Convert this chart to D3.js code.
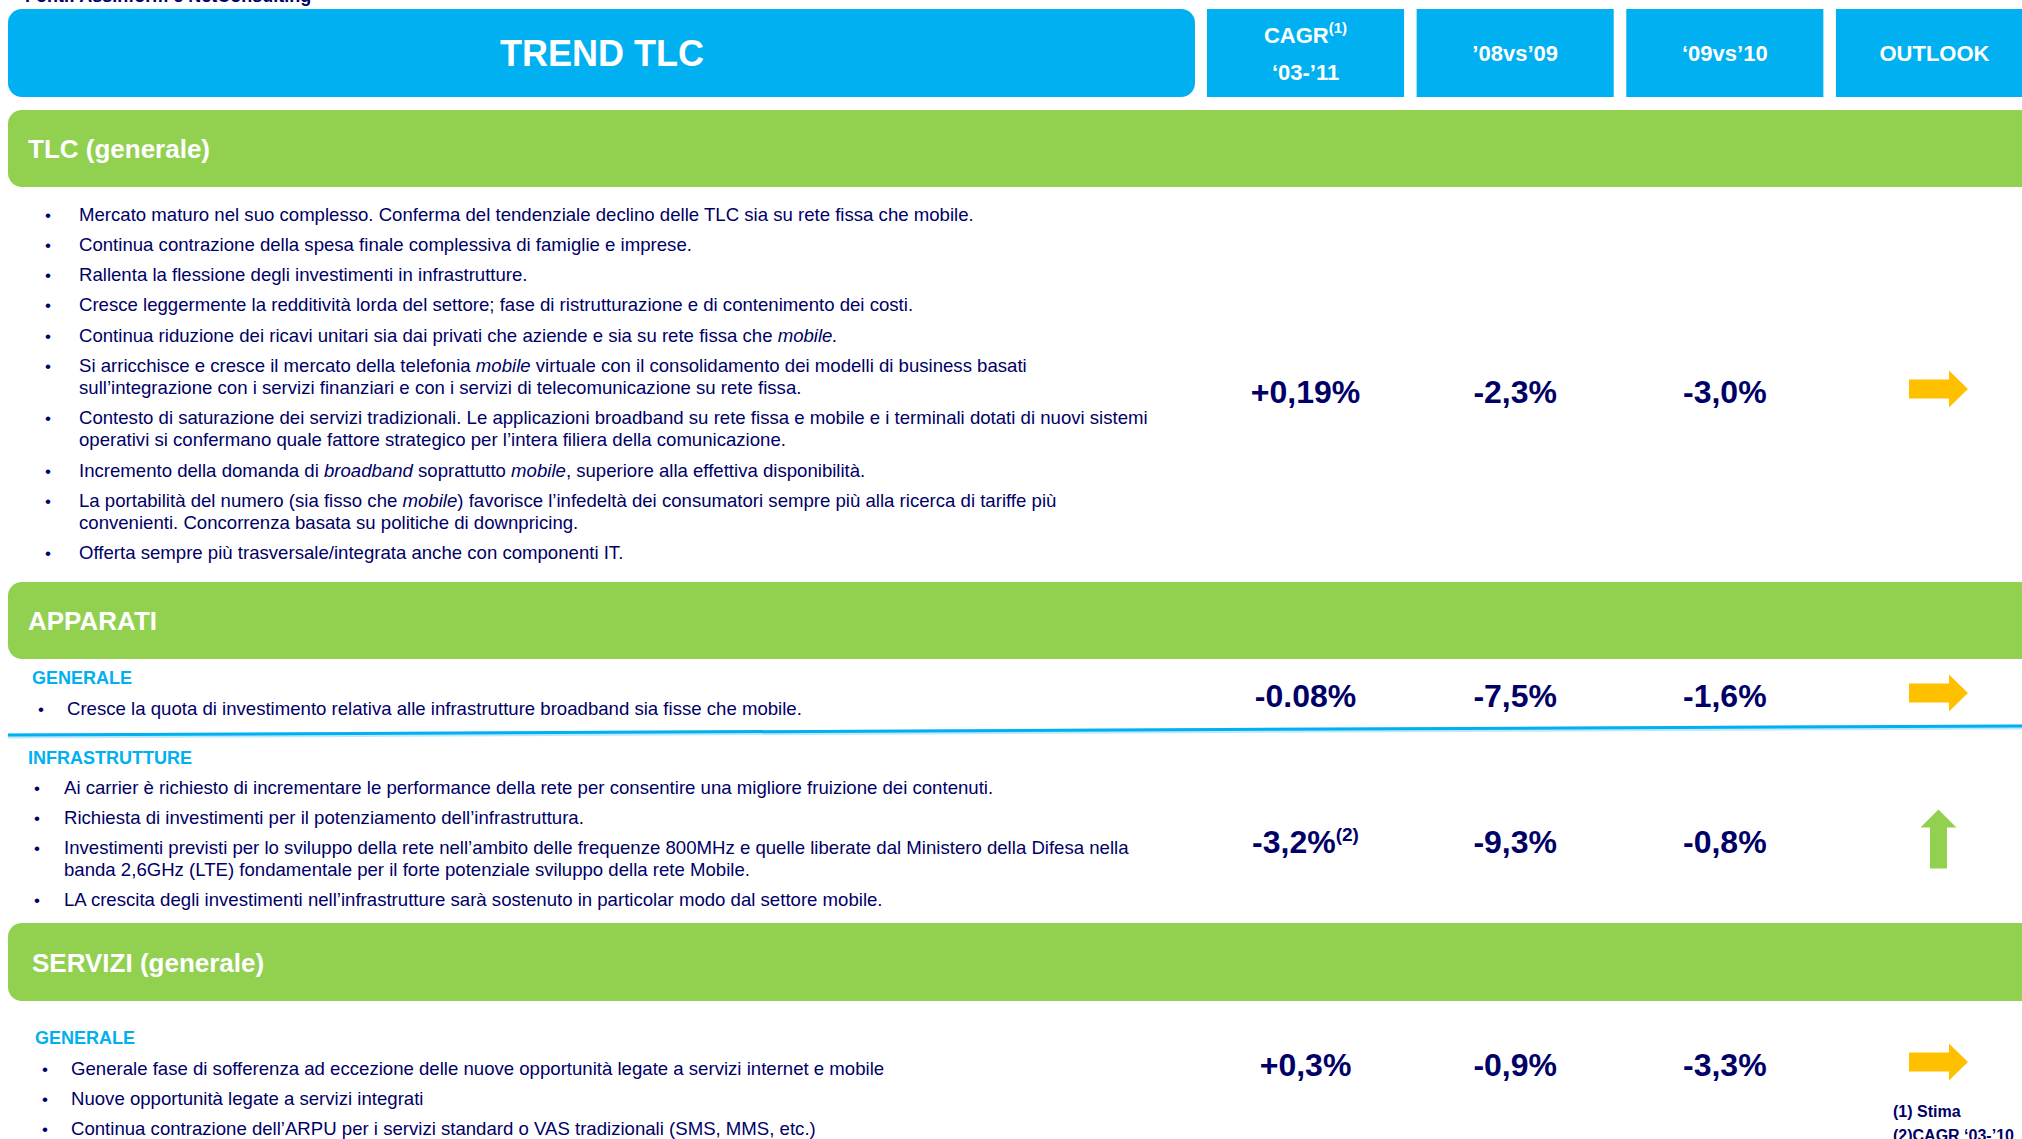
<!DOCTYPE html>
<html>
<head>
<meta charset="utf-8">
<script src="https://cdn.jsdelivr.net/npm/d3@7"></script>
<style>
    html, body { margin: 0; padding: 0; background: #fff; overflow: hidden; }
    svg { display: block; }
    text { white-space: pre; }
</style>
</head>
<body>
<svg id="base" width="2022" height="1139"></svg>
<script>
// data

const sourceNote = "Fonti: Assinform e NetConsulting";
const tableTitle = "TREND TLC";
const columns = ["CAGR", "’08vs’09", "‘09vs’10", "OUTLOOK"];
const sectionTitles = ["TLC (generale)", "APPARATI", "SERVIZI (generale)"];
const groupLabels = ["", "GENERALE", "INFRASTRUTTURE", "GENERALE"];

const cagrValues = ["+0,19%", "-0.08%", "-3,2%", "+0,3%"];
const cagrNotes = ["", "", "(2)", ""];
const values0809 = ["-2,3%", "-7,5%", "-9,3%", "-0,9%"];
const values0910 = ["-3,0%", "-1,6%", "-0,8%", "-3,3%"];
const outlookTrend = ["flat", "flat", "up", "flat"];

// *...* = corsivo
const bulletsTlc = [
    ["Mercato maturo nel suo complesso. Conferma del tendenziale declino delle TLC sia su rete fissa che mobile."],
    ["Continua contrazione della spesa finale complessiva di famiglie e imprese."],
    ["Rallenta la flessione degli investimenti in infrastrutture."],
    ["Cresce leggermente la redditività lorda del settore; fase di ristrutturazione e di contenimento dei costi."],
    ["Continua riduzione dei ricavi unitari sia dai privati che aziende e sia su rete fissa che *mobile.*"],
    ["Si arricchisce e cresce il mercato della telefonia *mobile* virtuale con il consolidamento dei modelli di business basati",
     "sull’integrazione con i servizi finanziari e con i servizi di telecomunicazione su rete fissa."],
    ["Contesto di saturazione dei servizi tradizionali. Le applicazioni broadband su rete fissa e mobile e i terminali dotati di nuovi sistemi",
     "operativi si confermano quale fattore strategico per l’intera filiera della comunicazione."],
    ["Incremento della domanda di *broadband* soprattutto *mobile*, superiore alla effettiva disponibilità."],
    ["La portabilità del numero (sia fisso che *mobile*) favorisce l’infedeltà dei consumatori sempre più alla ricerca di tariffe più",
     "convenienti. Concorrenza basata su politiche di downpricing."],
    ["Offerta sempre più trasversale/integrata anche con componenti IT."]
];
const bulletsApparati = [
    ["Cresce la quota di investimento relativa alle infrastrutture broadband sia fisse che mobile."]
];
const bulletsInfrastrutture = [
    ["Ai carrier è richiesto di incrementare le performance della rete per consentire una migliore fruizione dei contenuti."],
    ["Richiesta di investimenti per il potenziamento dell’infrastruttura."],
    ["Investimenti previsti per lo sviluppo della rete nell’ambito delle frequenze 800MHz e quelle liberate dal Ministero della Difesa nella",
     "banda 2,6GHz (LTE) fondamentale per il forte potenziale sviluppo della rete Mobile."],
    ["LA crescita degli investimenti nell’infrastrutture sarà sostenuto in particolar modo dal settore mobile."]
];
const bulletsServizi = [
    ["Generale fase di sofferenza ad eccezione delle nuove opportunità legate a servizi internet e mobile"],
    ["Nuove opportunità legate a servizi integrati"],
    ["Continua contrazione dell’ARPU per i servizi standard o VAS tradizionali (SMS, MMS, etc.)"]
];
const bulletGroups = [bulletsTlc, bulletsApparati, bulletsInfrastrutture, bulletsServizi];
const footnotes = ["(1) Stima", "(2)CAGR ‘03-’10"];

// layout

const W = 2022, H = 1139;
const blue = "#00B0F0", green = "#92D050", navy = "#000066", yellow = "#FFC000";
const font = "Arial, 'Liberation Sans', sans-serif";
const bodySize = 18.6;

const sectionBars = [[110, 187], [582, 659], [923, 1001]];
const rowLayout = [
    { labelX: 0, labelY: 0, bulletX: 45, textX: 79, startY: 214, valueY: 391 },
    { labelX: 32, labelY: 677, bulletX: 38, textX: 67, startY: 708, valueY: 695 },
    { labelX: 28, labelY: 757, bulletX: 34, textX: 64, startY: 787, valueY: 841 },
    { labelX: 35, labelY: 1037, bulletX: 42, textX: 71, startY: 1068, valueY: 1064 }
];
const lineGap = 22, paraGap = 30.3;

const x = d3.scaleBand().domain(columns).range([1207, 2033]).paddingInner(0.06);

const base = d3.select("#base").attr("font-family", font);

function richText(sel, str) {
    str.split("*").forEach((s, i) => {
        if (s.length) sel.append("tspan").attr("font-style", i % 2 ? "italic" : null).text(s);
    });
}

// nota fonte (tagliata in alto)
base.append("text").attr("x", 25).attr("y", 2)
    .attr("font-size", 18).attr("font-weight", "bold").attr("fill", navy)
    .text(sourceNote);

// intestazione
base.append("rect").attr("x", 8).attr("y", 9).attr("width", 1187).attr("height", 88)
    .attr("rx", 14).attr("fill", blue);
base.append("text").attr("x", 602).attr("y", 66).attr("text-anchor", "middle")
    .attr("font-size", 36).attr("font-weight", "bold").attr("fill", "#fff")
    .text(tableTitle);

const head = base.selectAll("g.head").data(columns).enter().append("g").attr("class", "head");
head.append("rect")
    .attr("x", (d) => x(d)).attr("y", 9)
    .attr("width", x.bandwidth()).attr("height", 88)
    .attr("fill", blue);
head.each(function (d, i) {
    const g = d3.select(this);
    const cx = x(d) + x.bandwidth() / 2;
    if (i === 0) {
        const t = g.append("text").attr("x", cx).attr("y", 43).attr("text-anchor", "middle")
            .attr("font-size", 22).attr("font-weight", "bold").attr("fill", "#fff");
        t.append("tspan").text(d);
        t.append("tspan").attr("font-size", 15).attr("dy", -10).text("(1)");
        g.append("text").attr("x", cx).attr("y", 80).attr("text-anchor", "middle")
            .attr("font-size", 22).attr("font-weight", "bold").attr("fill", "#fff")
            .text("‘03-’11");
    } else {
        g.append("text").attr("x", cx).attr("y", 61).attr("text-anchor", "middle")
            .attr("font-size", 22).attr("font-weight", "bold").attr("fill", "#fff")
            .text(d);
    }
});

// barre di sezione
const bars = base.selectAll("g.section").data(sectionTitles).enter().append("g").attr("class", "section");
bars.append("rect")
    .attr("x", 8).attr("y", (d, i) => sectionBars[i][0])
    .attr("width", W + 30).attr("height", (d, i) => sectionBars[i][1] - sectionBars[i][0])
    .attr("rx", 14).attr("fill", green);
bars.append("text")
    .attr("x", (d, i) => [28, 28, 32][i])
    .attr("y", (d, i) => (sectionBars[i][0] + sectionBars[i][1]) / 2 + 9.5)
    .attr("font-size", 26).attr("font-weight", "bold").attr("fill", "#fff")
    .text((d) => d);

// separatore apparati
base.append("line").attr("x1", 8).attr("y1", 736).attr("x2", W).attr("y2", 727)
    .attr("stroke", "#bfe9fb").attr("stroke-width", 5);
base.append("line").attr("x1", 8).attr("y1", 735).attr("x2", W).attr("y2", 726)
    .attr("stroke", blue).attr("stroke-width", 3);

// righe
rowLayout.forEach((L, r) => {
    const g = base.append("g");
    if (groupLabels[r]) {
        g.append("text").attr("x", L.labelX).attr("y", L.labelY + 6.5)
            .attr("font-size", 18).attr("font-weight", "bold").attr("fill", blue)
            .text(groupLabels[r]);
    }
    let y = L.startY;
    bulletGroups[r].forEach((para) => {
        g.append("text").attr("x", L.bulletX).attr("y", y + 6.5)
            .attr("font-size", 17).attr("fill", navy).text("•");
        para.forEach((line, k) => {
            const t = g.append("text").attr("x", L.textX).attr("y", y + k * lineGap + 6.5)
                .attr("font-size", bodySize).attr("fill", navy);
            richText(t, line);
        });
        y += (para.length - 1) * lineGap + paraGap;
    });

    // valori
    const vals = [cagrValues[r], values0809[r], values0910[r]];
    vals.forEach((v, c) => {
        const t = g.append("text")
            .attr("x", x(columns[c]) + x.bandwidth() / 2)
            .attr("y", L.valueY + 11.5)
            .attr("text-anchor", "middle")
            .attr("font-size", 32).attr("font-weight", "bold").attr("fill", navy);
        t.append("tspan").text(v);
        if (c === 0 && cagrNotes[r]) {
            t.append("tspan").attr("font-size", 19).attr("dy", -12).text(cagrNotes[r]);
        }
    });

    // outlook
    const ax = x("OUTLOOK") + x.bandwidth() / 2 + 4;
    const trend = outlookTrend[r];
    const path = trend === "up"
        ? "M-8.5,29.5L-8.5,-11.5L-18,-11.5L0,-29.5L18,-11.5L8.5,-11.5L8.5,29.5Z"
        : "M-29.5,-9.5L10.5,-9.5L10.5,-18.5L29.5,0L10.5,18.5L10.5,9.5L-29.5,9.5Z";
    g.append("path").attr("d", path)
        .attr("transform", `translate(${ax},${L.valueY - 2})`)
        .attr("fill", trend === "up" ? green : yellow);
});

// note
base.selectAll("text.note").data(footnotes).enter().append("text")
    .attr("class", "note")
    .attr("x", 1893).attr("y", (d, i) => 1117 + i * 24)
    .attr("font-size", 16).attr("font-weight", "bold").attr("fill", navy)
    .text((d) => d);
</script>
</body>
</html>
